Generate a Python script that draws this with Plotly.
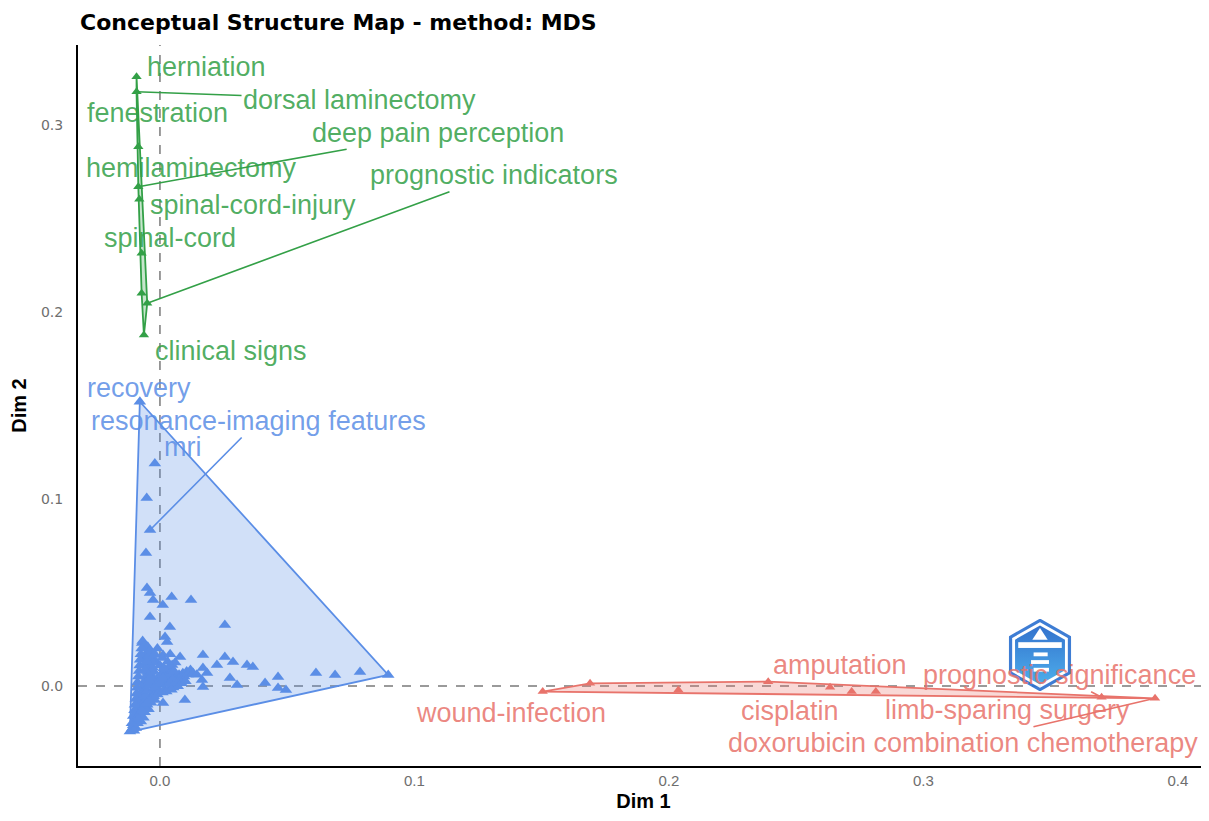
import plotly.graph_objects as go
import urllib.parse

# ---------------- data ----------------
green_words = ["herniation", "dorsal laminectomy", "fenestration", "deep pain perception",
               "hemilaminectomy", "spinal-cord-injury", "spinal-cord", "prognostic indicators",
               "clinical signs"]
green_x = [-0.0092, -0.0092, -0.0085, -0.0085, -0.0072, -0.0081, -0.0072, -0.0050, -0.0063]
green_y = [0.3258, 0.3178, 0.2884, 0.2670, 0.2100, 0.2603, 0.2314, 0.2047, 0.1877]

red_words = ["wound-infection", "", "", "amputation", "", "cisplatin", "limb-sparing surgery",
             "prognostic significance", "doxorubicin combination chemotherapy"]
red_x = [0.1504, 0.1690, 0.2037, 0.2390, 0.2633, 0.2718, 0.2813, 0.3700, 0.3910]
red_y = [-0.0030, 0.0014, -0.0021, 0.0023, -0.0007, -0.0030, -0.0030, -0.0060, -0.0066]

blue_words = ["recovery", "mri", "resonance-imaging features"]
blue_x = [-0.0079, -0.0020, -0.0039,
          -0.0052, -0.0055, -0.0051, -0.0039, -0.0027, 0.0011, 0.0046, 0.0122, -0.0039,
          0.0039, 0.0255, 0.0020, 0.0028, 0.0012, 0.0079, 0.0169, 0.0255, 0.0287, 0.0342,
          0.0365, 0.0224, 0.0169, 0.0185, 0.0165, 0.0275, 0.0303, 0.0464, 0.0413, 0.0464,
          0.0495, 0.0613, 0.0688, 0.0786, 0.0897, 0.0098, 0.0012, 0.0169,
          -0.0118, -0.0112, -0.0108, -0.0105, -0.0100, -0.0098, -0.0095, -0.0092, -0.0090,
          -0.0088, -0.0085, -0.0082, -0.0080, -0.0078, -0.0075, -0.0072, -0.0070, -0.0068,
          -0.0065, -0.0062, -0.0060, -0.0058, -0.0055, -0.0052, -0.0050, -0.0048, -0.0045,
          -0.0042, -0.0040, -0.0060, -0.0055, -0.0050, -0.0065, -0.0070, -0.0048,
          -0.0030, -0.0020, -0.0010, 0.0000, 0.0010, 0.0022, 0.0035, 0.0048, 0.0060,
          -0.0025, -0.0012, 0.0002, 0.0015, 0.0030, 0.0045, 0.0060, 0.0075, 0.0090, 0.0105,
          0.0120, -0.0040, -0.0028, -0.0015, 0.0000, 0.0018, 0.0035, 0.0052, 0.0070,
          -0.0050, -0.0035, -0.0020, -0.0060, -0.0045, -0.0075, -0.0065, -0.0030, -0.0015,
          0.0000, 0.0015, -0.0035, -0.0025, 0.0008, 0.0025, 0.0040, 0.0055,
          -0.0110, -0.0105, -0.0100, -0.0098, -0.0095, -0.0092, -0.0090, -0.0088, -0.0085,
          -0.0082, -0.0080, -0.0078, -0.0075, -0.0072, -0.0068,
          -0.0062, -0.0058, -0.0055, -0.0050, -0.0045, -0.0040, -0.0038, -0.0033, -0.0030,
          -0.0028, -0.0020, -0.0010, 0.0005, 0.0012, 0.0028, 0.0040, 0.0050, 0.0065, 0.0080,
          0.0095, 0.0110, 0.0130, 0.0145, 0.0085, 0.0100,
          -0.0080, -0.0070, -0.0088, -0.0095, -0.0102, -0.0085, -0.0055, -0.0042, -0.0025,
          -0.0010, 0.0010, 0.0025, 0.0045,
          -0.0065, -0.0060, -0.0052, -0.0045, -0.0040, -0.0020, -0.0010, 0.0010, 0.0030,
          0.0040]
blue_y = [0.1520, 0.1190, 0.0834,
          0.1005, 0.0711, 0.0524, 0.0497, 0.0460, 0.0433, 0.0476, 0.0460, 0.0369,
          0.0316, 0.0326, 0.0262, 0.0235, 0.0166, 0.0155, 0.0166, 0.0155, 0.0128, 0.0112,
          0.0102, 0.0112, 0.0096, 0.0070, 0.0032, 0.0043, 0.0005, 0.0048, 0.0016, -0.0011,
          -0.0021, 0.0070, 0.0059, 0.0075, 0.0059, -0.0075, -0.0091, -0.0005,
          -0.0244, -0.0235, -0.0225, -0.0210, -0.0198, -0.0185, -0.0170, -0.0160, -0.0148,
          -0.0135, -0.0120, -0.0108, -0.0095, -0.0082, -0.0070, -0.0058, -0.0045, -0.0030,
          -0.0018, -0.0005, 0.0008, 0.0020, 0.0035, 0.0048, 0.0062, 0.0075, 0.0090,
          0.0105, 0.0120, 0.0140, 0.0160, 0.0180, 0.0200, 0.0230, 0.0210,
          0.0010, 0.0025, 0.0040, 0.0055, 0.0070, 0.0085, 0.0100, 0.0112, 0.0125,
          -0.0020, -0.0008, 0.0005, 0.0018, 0.0030, 0.0042, 0.0050, 0.0060, 0.0068, 0.0078,
          0.0085, -0.0060, -0.0050, -0.0040, -0.0030, -0.0022, -0.0015, -0.0008, -0.0002,
          -0.0100, -0.0090, -0.0075, -0.0140, -0.0125, -0.0190, -0.0170, 0.0150, 0.0130,
          0.0110, 0.0095, 0.0060, 0.0080, 0.0030, 0.0050, 0.0065, 0.0080,
          -0.0200, -0.0160, -0.0130, -0.0100, -0.0070, -0.0040, -0.0010, 0.0020, 0.0050,
          0.0080, 0.0110, 0.0140, 0.0170, 0.0200, 0.0240,
          -0.0110, -0.0080, -0.0050, -0.0025, 0.0000, 0.0025, 0.0045, 0.0075, 0.0100,
          0.0125, -0.0010, 0.0015, 0.0020, 0.0045, 0.0010, 0.0020, 0.0035, 0.0025, 0.0040,
          0.0050, 0.0062, 0.0070, 0.0060, 0.0015, 0.0025,
          -0.0150, -0.0130, -0.0200, -0.0225, -0.0240, -0.0175, -0.0095, -0.0075, -0.0055,
          -0.0045, -0.0035, -0.0030, -0.0020,
          0.0110, 0.0085, 0.0130, 0.0160, 0.0190, 0.0170, 0.0200, 0.0150, 0.0130,
          0.0170]

x_ticks = [0.0, 0.1, 0.2, 0.3, 0.4]
y_ticks = [0.0, 0.1, 0.2, 0.3]

# ---------------- styling ----------------
GREEN, BLUE, RED = "#33a047", "#5b8ee6", "#e8736b"
GREEN_T, BLUE_T, RED_T = "rgba(51,160,71,0.85)", "rgba(91,142,230,0.85)", "rgba(232,115,107,0.85)"
LABEL_FONT = "Liberation Sans, Arial, sans-serif"
LABEL_SIZE = 27

# the page body has an 8px margin; the figure is sized so the plot area lands where the
# reference has it (plot area 78..1209 x 45..766 in window pixels)
PAGE_OFF = 8
FIG_W, FIG_H = 1209 - PAGE_OFF, 821 - PAGE_OFF
M_L, M_T = 78 - PAGE_OFF, 45 - PAGE_OFF
M_R, M_B = 0, FIG_H - (766 - PAGE_OFF)
PLOT_W, PLOT_H = FIG_W - M_L - M_R, FIG_H - M_T - M_B

# label placement (pixel offsets of the text from its point) and whether a segment is drawn
green_place = {"herniation": (70, -10, False), "dorsal laminectomy": (223, 8, True),
               "fenestration": (19, -34, False), "deep pain perception": (300, -54, True),
               "hemilaminectomy": (50, -125, False), "spinal-cord-injury": (114, 6, False),
               "spinal-cord": (28, -15, False), "prognostic indicators": (347, -128, True),
               "clinical signs": (87, 16, False)}
blue_place = {"recovery": (-1, -14, False), "mri": (28, -16, False),
              "resonance-imaging features": (108, -109, True)}
red_place = {"wound-infection": (-32, 21, False), "amputation": (72, -17, False),
             "cisplatin": (-62, 19, False), "limb-sparing surgery": (132, 18, False),
             "prognostic significance": (-42, -22, True),
             "doxorubicin combination chemotherapy": (-192, 45, True)}


def hull(xs, ys):
    pts = sorted(set(zip(xs, ys)))
    if len(pts) < 3:
        return pts

    def cross(o, a, b):
        return (a[0] - o[0]) * (b[1] - o[1]) - (a[1] - o[1]) * (b[0] - o[0])
    lower, upper = [], []
    for p in pts:
        while len(lower) >= 2 and cross(lower[-2], lower[-1], p) <= 0:
            lower.pop()
        lower.append(p)
    for p in reversed(pts):
        while len(upper) >= 2 and cross(upper[-2], upper[-1], p) <= 0:
            upper.pop()
        upper.append(p)
    h = lower[:-1] + upper[:-1]
    return h + [h[0]]


fig = go.Figure()

for xs, ys, col, fillc, msize in [(blue_x, blue_y, BLUE, "rgba(91,142,230,0.28)", 11),
                                  (green_x, green_y, GREEN, "rgba(51,160,71,0.28)", 9),
                                  (red_x, red_y, RED, "rgba(232,115,107,0.28)", 9)]:
    h = hull(xs, ys)
    fig.add_trace(go.Scatter(x=[p[0] for p in h], y=[p[1] for p in h], mode="lines",
                             fill="toself", fillcolor=fillc,
                             line=dict(color=col, width=1.8), hoverinfo="skip",
                             showlegend=False))
    fig.add_trace(go.Scatter(x=xs, y=ys, mode="markers",
                             marker=dict(symbol="triangle-up", size=msize, color=col,
                                         line=dict(width=0)),
                             showlegend=False))

annotations = []


def add_labels(words, xs, ys, place, col_t, col):
    for w, x, y in zip(words, xs, ys):
        if not w or w not in place:
            continue
        ax, ay, seg = place[w]
        annotations.append(dict(x=x, y=y, xref="x", yref="y", text=w, showarrow=True,
                                ax=ax, ay=ay, arrowhead=0, standoff=0, startstandoff=0,
                                arrowwidth=1.6,
                                arrowcolor=col if seg else "rgba(0,0,0,0)",
                                font=dict(family=LABEL_FONT, size=LABEL_SIZE, color=col_t)))


add_labels(green_words, green_x, green_y, green_place, GREEN_T, GREEN)
add_labels(blue_words, blue_x[:3], blue_y[:3], blue_place, BLUE_T, BLUE)
add_labels(red_words, red_x, red_y, red_place, RED_T, RED)

# dashed reference lines at 0
shapes = [
    dict(type="line", xref="x", yref="paper", x0=0, x1=0, y0=0, y1=1,
         line=dict(color="#7a7a7a", width=1.5, dash="dash"), layer="below"),
    dict(type="line", xref="paper", yref="y", x0=0, x1=1, y0=0, y1=0,
         line=dict(color="#7a7a7a", width=1.5, dash="dash"), layer="below"),
]

# logo (simple hexagon badge)
logo_svg = ("<svg xmlns='http://www.w3.org/2000/svg' width='100' height='112' viewBox='0 0 100 112'>"
            "<defs><linearGradient id='g' x1='0' y1='0' x2='0' y2='1'>"
            "<stop offset='0' stop-color='#1e63c8'/><stop offset='1' stop-color='#3aa6ea'/></linearGradient></defs>"
            "<polygon points='50,2 96,28 96,84 50,110 4,84 4,28' fill='#ffffff' stroke='#2a6fd0' stroke-width='5'/>"
            "<polygon points='50,10 89,32 89,80 50,102 11,80 11,32' fill='url(#g)'/>"
            "<polygon points='50,14 62,32 38,32' fill='#ffffff'/>"
            "<rect x='16' y='36' width='68' height='9' fill='#ffffff'/>"
            "<rect x='40' y='52' width='22' height='6' fill='#ffffff'/>"
            "<rect x='36' y='64' width='28' height='6' fill='#ffffff'/>"
            "<rect x='40' y='76' width='24' height='6' fill='#ffffff'/>"
            "</svg>")
logo_src = "data:image/svg+xml;charset=utf-8," + urllib.parse.quote(logo_svg)

fig.update_layout(
    width=FIG_W, height=FIG_H,
    margin=dict(l=M_L, r=M_R, t=M_T, b=M_B, autoexpand=False),
    paper_bgcolor="white", plot_bgcolor="white",
    title=dict(text="<b>Conceptual Structure Map - method: MDS</b>",
               x=(80 - PAGE_OFF) / FIG_W, xanchor="left",
               y=1 - (22 - PAGE_OFF) / FIG_H, yanchor="middle",
               font=dict(family="DejaVu Sans, sans-serif", size=22, color="black")),
    xaxis=dict(range=[-0.0322, 0.4122], tickvals=x_ticks, ticktext=[f"{v:.1f}" for v in x_ticks],
               showgrid=False, zeroline=False, showline=True, linecolor="black", linewidth=2,
               ticks="", automargin=False,
               tickfont=dict(family="Liberation Sans Narrow, Liberation Sans, sans-serif",
                             size=15, color="#6e6e6e"),
               title=dict(text="<b>Dim 1</b>", standoff=6,
                          font=dict(family="Liberation Sans Narrow, Liberation Sans, sans-serif",
                                    size=20, color="black"))),
    yaxis=dict(range=[-0.0428, 0.3428], tickvals=y_ticks, ticktext=[f"{v:.1f}" for v in y_ticks],
               showgrid=False, zeroline=False, showline=True, linecolor="black", linewidth=2,
               ticks="", automargin=False, ticklabelstandoff=10,
               tickfont=dict(family="DejaVu Sans, sans-serif", size=14, color="#6e6e6e"),
               title=dict(text="<b>Dim 2</b>", standoff=14,
                          font=dict(family="Liberation Sans Narrow, Liberation Sans, sans-serif",
                                    size=20, color="black"))),
    shapes=shapes,
    annotations=annotations,
    images=[dict(source=logo_src, xref="paper", yref="paper", x=(1040 - 78) / PLOT_W,
                 y=(766 - 655) / PLOT_H, xanchor="center", yanchor="middle",
                 sizex=64 / PLOT_W, sizey=72 / PLOT_H, sizing="contain", layer="above",
                 opacity=0.9)],
)

fig.write_html("out.html")
